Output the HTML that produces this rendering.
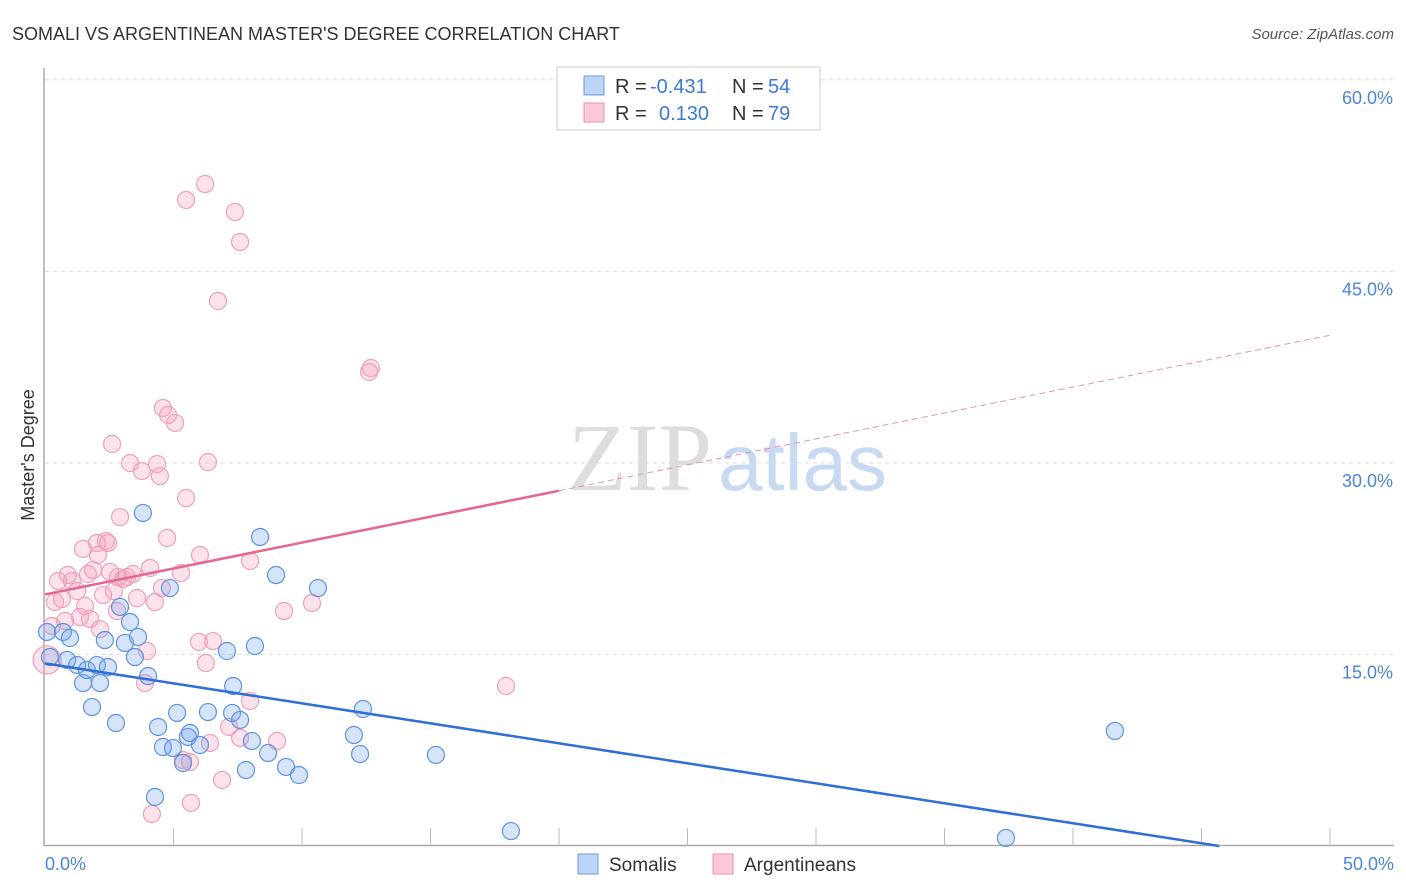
<!DOCTYPE html>
<html><head><meta charset="utf-8">
<style>
body{margin:0;background:#fff;font-family:"Liberation Sans",sans-serif;}
#wrap{position:relative;width:1406px;height:892px;overflow:hidden;}
</style></head>
<body>
<div id="wrap">
<svg id="svg" width="1406" height="892" xmlns="http://www.w3.org/2000/svg">
<text x="12" y="40" font-size="18" fill="#333">SOMALI VS ARGENTINEAN MASTER'S DEGREE CORRELATION CHART</text>
<text x="1394" y="39" font-size="15" fill="#555" font-style="italic" text-anchor="end">Source: ZipAtlas.com</text>
<text x="34" y="455" font-size="18" fill="#333" text-anchor="middle" transform="rotate(-90 34 455)">Master's Degree</text>
<g>
<text x="712" y="490" font-size="96" font-family="Liberation Serif,serif" fill="#ddd" text-anchor="end">ZIP</text>
<text x="718" y="490" font-size="80" fill="#c8daf2">atlas</text>
</g>
<g id="grid"></g><g id="axes"></g><g id="pts"></g><g id="trend"></g>
<g>
<rect x="557" y="67" width="263" height="63" fill="#fff" stroke="#ccc"/>
<rect x="584" y="76" width="20" height="19" fill="#bcd4f5" stroke="#6a9be0"/>
<rect x="584" y="103" width="20" height="19" fill="#fbc9d8" stroke="#e890b0"/>
<text font-size="20" fill="#333"><tspan x="615" y="93">R =</tspan><tspan x="650" y="93" fill="#3b7ad8">-0.431</tspan><tspan x="732" y="93">N =</tspan><tspan x="768" y="93" fill="#3b7ad8">54</tspan></text>
<text font-size="20" fill="#333"><tspan x="615" y="120">R =</tspan><tspan x="659" y="120" fill="#3b7ad8">0.130</tspan><tspan x="732" y="120">N =</tspan><tspan x="768" y="120" fill="#3b7ad8">79</tspan></text>
</g>
<g>
<rect x="578" y="854" width="20" height="20" fill="#bcd4f5" stroke="#6a9be0"/>
<text x="609" y="871" font-size="19" fill="#333">Somalis</text>
<rect x="713" y="854" width="20" height="20" fill="#fbc9d8" stroke="#e890b0"/>
<text x="744" y="871" font-size="19" fill="#333">Argentineans</text>
</g>
</svg>
</div>
<script>
const yTicks=[15,30,45,60];
const yTickLabels=["15.0%","30.0%","45.0%","60.0%"];
const xTickLabels=["0.0%","50.0%"];
const somaliX=[0.08,0.19,0.70,0.97,0.86,1.25,1.48,1.63,1.83,2.02,2.14,2.33,2.45,2.76,2.92,3.11,3.31,3.50,3.62,3.81,4.01,4.28,4.40,4.59,4.86,4.98,5.14,5.37,5.56,5.64,6.03,6.34,7.08,7.32,7.28,7.59,7.82,8.05,8.17,8.37,8.68,8.99,9.38,9.88,10.62,12.02,12.26,12.37,15.21,18.13,37.39,41.63];
const somaliY=[16.76,14.80,16.76,16.29,14.57,14.17,12.76,13.78,10.88,14.17,12.76,16.13,14.02,9.63,18.72,15.90,17.54,14.80,16.37,26.08,13.31,3.84,9.32,7.75,20.20,7.67,10.42,6.50,8.54,8.85,7.91,10.49,15.27,12.53,10.42,9.87,5.95,8.22,15.66,24.20,7.28,21.22,6.19,5.56,20.20,8.69,7.20,10.73,7.13,1.17,0.63,9.01];
const argX=[0.08,0.27,0.39,0.51,0.66,0.78,0.89,1.05,1.25,1.36,1.48,1.56,1.67,1.75,1.87,2.02,2.06,2.14,2.26,2.37,2.45,2.53,2.61,2.68,2.80,2.92,2.84,3.04,3.19,3.31,3.42,3.58,3.77,3.89,3.97,4.09,4.16,4.28,4.36,4.47,4.55,4.59,4.75,4.79,5.06,5.29,5.37,5.49,5.49,5.64,5.68,5.99,6.03,6.23,6.26,6.34,6.42,6.54,6.73,6.89,7.16,7.39,7.59,7.59,7.98,7.98,9.03,9.30,10.39,12.61,12.68,17.94];
const argY=[14.57,17.23,19.11,20.75,19.34,17.62,21.22,20.75,19.97,17.93,23.26,18.79,21.30,17.78,21.61,23.73,22.79,16.99,19.65,23.88,23.73,21.46,31.48,19.97,18.40,25.76,21.06,20.91,21.06,29.99,21.30,19.42,29.36,12.76,15.27,21.77,2.51,19.11,29.91,28.97,20.20,34.30,24.12,33.75,33.13,21.38,6.73,27.25,50.59,6.58,3.37,15.98,22.79,51.84,14.33,30.07,8.07,16.05,42.68,5.17,9.32,49.65,47.30,8.46,11.36,22.32,8.22,18.40,19.03,37.12,37.43,12.53];
const somaliTrend=[14.3,-0.313]; // intercept, slope
const argTrend=[19.7,0.406];
const X=v=>45+v*25.7, Y=v=>846-v*12.77;
const NS="http://www.w3.org/2000/svg";
function mk(parent,tag,attrs){const e=document.createElementNS(NS,tag);for(const k in attrs)e.setAttribute(k,attrs[k]);document.getElementById(parent).appendChild(e);return e;}
yTicks.forEach((t,i)=>{
 const l=mk('grid','line',{x1:45,x2:1394,y1:Y(t),y2:Y(t),stroke:'#ddd','stroke-dasharray':'4,4'});
 
 
 const tx=mk('grid','text',{x:1393,y:Y(t)+24,'font-size':18,fill:'#4a86d8','text-anchor':'end'});
 tx.textContent=yTickLabels[i];
 
 
});
mk('axes','line',{x1:44,x2:44,y1:68,y2:846,stroke:'#aaa','stroke-width':1.5});
mk('axes','line',{x1:44,x2:1394,y1:845.5,y2:845.5,stroke:'#aaa','stroke-width':1.5});
for(let i=1;i<=10;i++){mk('axes','line',{x1:X(i*5),x2:X(i*5),y1:828,y2:846,stroke:'#bbb'});}
[[0,'start',45],[1,'end',1394]].forEach(([i,a,x])=>{const t=mk('axes','text',{x:x,y:870,'font-size':18,fill:'#4a86d8','text-anchor':a});t.textContent=xTickLabels[i];

});
argX.forEach((v,i)=>{const c=mk('pts','circle',{cx:X(v),cy:Y(argY[i]),r:i==0?14:8.5,fill:'rgba(244,160,190,0.3)',stroke:'#eda0bb','stroke-width':1.2});

});
somaliX.forEach((v,i)=>{const c=mk('pts','circle',{cx:X(v),cy:Y(somaliY[i]),r:8.5,fill:'rgba(120,165,235,0.3)',stroke:'#5f93df','stroke-width':1.2});

});
const sEnd=-somaliTrend[0]/somaliTrend[1];
const bl=mk('trend','line',{x1:X(0),y1:Y(somaliTrend[0]),x2:X(sEnd),y2:Y(0),stroke:'#2f6fd6','stroke-width':2.5});


const pl=mk('trend','line',{x1:X(0),y1:Y(argTrend[0]),x2:X(20),y2:Y(argTrend[0]+20*argTrend[1]),stroke:'#e86590','stroke-width':2.5});


const pd=mk('trend','line',{x1:X(20),y1:Y(argTrend[0]+20*argTrend[1]),x2:X(50),y2:Y(argTrend[0]+50*argTrend[1]),stroke:'#e890b0','stroke-width':1,'stroke-dasharray':'6,4'});


</script>
</body></html>
